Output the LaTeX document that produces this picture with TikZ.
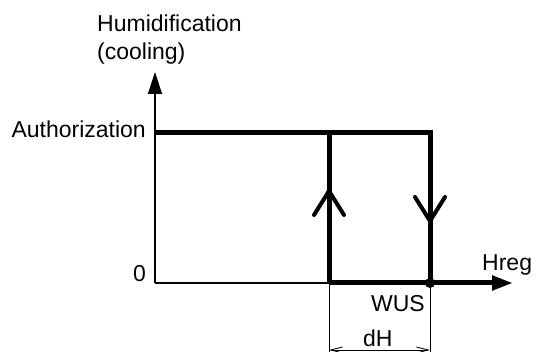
\documentclass[tikz,border=0pt]{standalone}
\usepackage{fontspec}
\setmainfont{Liberation Sans}
\usetikzlibrary{arrows.meta}
\begin{document}
\begin{tikzpicture}[x=1pt,y=-1pt,
  lbl/.style={inner sep=0pt,font=\fontsize{23}{28}\selectfont},
  thinline/.style={line width=1.4pt},
  thickline/.style={line width=5pt},
  thindim/.style={line width=0.8pt},
  chev/.style={line width=4pt,line cap=round,line join=miter}]
\useasboundingbox[fill=white] (0,0) rectangle (539,352);
% coordinates
\coordinate (O) at (155,283);
\coordinate (Ytop) at (155,72);
\coordinate (A0) at (155,133);
\coordinate (A1) at (329,133);
\coordinate (A2) at (430,133);
\coordinate (B1) at (329,283);
\coordinate (B2) at (430,283);
\coordinate (Xend) at (513,283);
\coordinate (E1) at (329,352);
\coordinate (E2) at (430,352);
\coordinate (D1) at (329,350);
\coordinate (D2) at (430,350);
% texts
\node[lbl,anchor=base west] (hum) at (97,32) {Humidification};
\node[lbl,anchor=base west] (cool) at (97,60) {(cooling)};
\node[lbl,anchor=base east] (auth) at (146,138) {Authorization};
\node[lbl,anchor=base east] (zero) at (146,282) {0};
\node[lbl,anchor=base west] (hreg) at (482,271) {Hreg};
\node[lbl,anchor=base east] (wus) at (425,312) {WUS};
\node[lbl,anchor=base west] (dh) at (363,347) {dH};
% axes
\draw[thinline,-{Triangle[length=22pt,width=14pt]}] (O) -- (Ytop);
\draw[thinline] (O) -- (B1);
\draw[thickline] (B1) -- (B2);
\draw[thickline,-{Triangle[length=21pt,width=14pt]}] (B2) -- (Xend);
% hysteresis
\draw[thickline,line join=miter] (A0) -- (A2) -- (B2);
\draw[thickline] (A1) -- (B1);
\fill (B2) circle (5pt);
% direction chevrons
\draw[chev] (314,215) -- (329,191) -- (344,215);
\draw[chev] (415,197) -- (430,221) -- (445,197);
% dimension
\draw[thindim] (B1) -- (E1);
\draw[thindim] (B2) -- (E2);
\draw[thindim,{Straight Barb[length=12pt,width=6pt]}-{Straight Barb[length=12pt,width=6pt]}] (D1) -- (D2);
\end{tikzpicture}
\end{document}
